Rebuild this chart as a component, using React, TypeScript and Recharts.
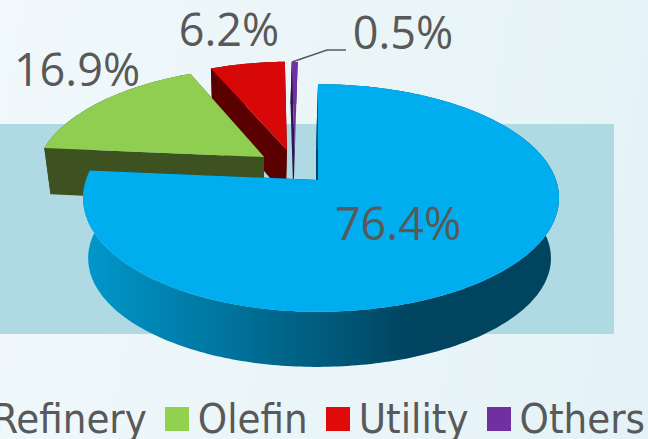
import { PieChart, Pie, Legend } from 'recharts';

const CATEGORIES = ['Refinery', 'Olefin', 'Utility', 'Others'];
const SHARES = [76.4, 16.9, 6.2, 0.5];
const TOP_COLORS = ['#00aeef', '#8fce50', '#d90808', '#7030a0'];
const LEGEND_COLORS = ['#00aeef', '#92d050', '#e00a0a', '#7030a0'];
const WALL_COLORS = ['#00445f', '#3d5220', '#5a0000', '#2c1650'];

const INK = '#595959';

// How far each slice is pulled out, in pie-plane units, and where its label sits.
const EXPLODE: Record<string, [number, number]> = {
  Refinery: [0, 0],
  Olefin: [-0.24, 0.214],
  Utility: [-0.14, 0.282],
  Others: [-0.105, 0.277],
};
const LABEL_AT: Record<string, [number, number]> = {
  Refinery: [398, 240],
  Olefin: [77, 86],
  Utility: [229, 46],
  Others: [403, 49],
};

// Drawn last-to-first so the big slice lands on top of the pulled-out ones.
const rows = CATEGORIES.map((name, i) => ({ name, value: SHARES[i], top: TOP_COLORS[i], wall: WALL_COLORS[i] })).reverse();

const PERSPECTIVE = 0.158;

/** Pie plane to screen; the rim plane is shifted down and a bit narrower. */
function project(u: number, v: number, cx: number, cy: number, rim: boolean, big: boolean): [number, number] {
  const w = 1 + PERSPECTIVE * v;
  if (rim) {
    const drop = big ? 61 : 48;
    const depth = big ? 106 : 117;
    return [cx - 2 + ((u < 0 ? 225 : 232) * u) / w, cy + drop - (depth * v) / w];
  }
  return [cx + ((u < 0 ? 232 : 238) * u) / w, cy - (111 * v) / w];
}

const toPath = (pts: [number, number][]) =>
  pts.map((p, i) => `${i ? 'L' : 'M'}${p[0].toFixed(1)} ${p[1].toFixed(1)}`).join(' ') + ' Z';

function Slice3D(props: any) {
  const { cx, cy, outerRadius, startAngle, endAngle, name, payload } = props;
  const [ox, oy] = EXPLODE[name];
  const isBig = name === CATEGORIES[0];
  const from = 90 - endAngle;
  const to = 90 - startAngle;
  const arc = (rim: boolean) => {
    const pts: [number, number][] = [];
    const steps = Math.max(4, Math.ceil(to - from));
    for (let s = 0; s <= steps; s++) {
      const a = ((from + ((to - from) * s) / steps) * Math.PI) / 180;
      pts.push(project(ox + (Math.sin(a) * outerRadius) / 100, oy + (Math.cos(a) * outerRadius) / 100, cx, cy, rim, isBig));
    }
    return pts;
  };
  const topArc = arc(false);
  const rimArc = arc(true);
  const apexTop = project(ox, oy, cx, cy, false, isBig);
  const apexRim = project(ox, oy, cx, cy, true, isBig);
  // one quad per step, so the outline also covers the tangent between the two ellipses
  const side = topArc
    .slice(1)
    .map((p, i) => toPath([topArc[i], p, rimArc[i + 1], rimArc[i]]))
    .join(' ');
  return (
    <g>
      {isBig && (
        <defs>
          <linearGradient id="rimShade" gradientUnits="userSpaceOnUse" x1="88" y1="0" x2="413" y2="0">
            <stop offset="0" stopColor="#0097cb" />
            <stop offset="1" stopColor={payload.wall} />
          </linearGradient>
        </defs>
      )}
      <path d={toPath([apexTop, topArc[0], rimArc[0], apexRim])} fill={payload.wall} />
      <path d={toPath([apexTop, topArc[topArc.length - 1], rimArc[rimArc.length - 1], apexRim])} fill={payload.wall} />
      <path d={side} fill={isBig ? 'url(#rimShade)' : payload.wall} />
      <path d={toPath([apexTop, ...topArc])} fill={payload.top} />
    </g>
  );
}

function renderLabel(props: any) {
  const [x, y] = LABEL_AT[props.name];
  return (
    <g key={props.name}>
      {props.name === 'Others' && <polyline points="292,62 327,50 346,50" fill="none" stroke={INK} strokeWidth={1.5} />}
      <text x={x} y={y} textAnchor="middle" fill={INK} fontFamily="'Open Sans', sans-serif" fontSize={45}>
        {props.value.toFixed(1)}%
      </text>
    </g>
  );
}

function renderLegend() {
  return (
    <div style={{ display: 'flex', justifyContent: 'flex-end', gap: 18, whiteSpace: 'nowrap', paddingRight: 3 }}>
      {CATEGORIES.map((name, i) => (
        <span key={name} style={{ display: 'flex', alignItems: 'center', gap: 9, flex: 'none' }}>
          <span style={{ width: 24, height: 24, background: LEGEND_COLORS[i], flex: 'none' }} />
          <span style={{ color: INK, fontSize: 41.5, lineHeight: '40px', fontFamily: "'DejaVu Sans Condensed', 'DejaVu Sans', sans-serif", fontStretch: 'condensed' }}>
            {name}
          </span>
        </span>
      ))}
    </div>
  );
}

export default function App() {
  return (
    <div
      style={{
        position: 'absolute',
        left: 0,
        top: 0,
        width: 648,
        height: 439,
        overflow: 'hidden',
        background: 'linear-gradient(100deg, #f0f8fb 0%, #eaf5f8 55%, #e4f2f7 100%)',
      }}
    >
      <div style={{ position: 'absolute', left: 0, top: 124, width: 614, height: 210, background: '#afdae3' }} />
      <PieChart width={648} height={439} margin={{ top: 0, right: 0, bottom: 0, left: 0 }} style={{ position: 'absolute', left: 0, top: 0 }}>
        <Pie
          data={rows}
          dataKey="value"
          nameKey="name"
          cx={318}
          cy={180}
          outerRadius={100}
          startAngle={90}
          endAngle={450}
          stroke="none"
          shape={Slice3D}
          label={renderLabel}
          labelLine={false}
          isAnimationActive={false}
        />
        <Legend content={renderLegend} wrapperStyle={{ position: 'absolute', left: 0, top: 398.5, width: 648, bottom: 'auto' }} />
      </PieChart>
    </div>
  );
}
